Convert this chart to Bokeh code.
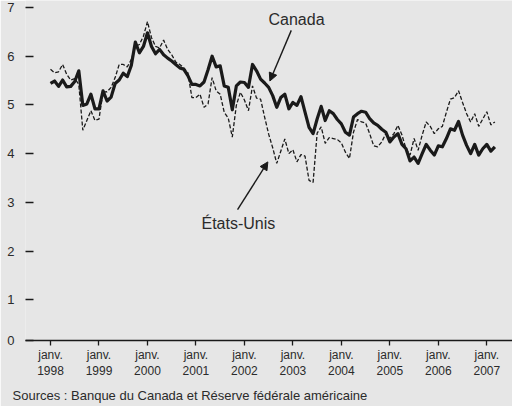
from bokeh.plotting import figure
from bokeh.models import Range1d, FixedTicker, Label, Arrow, NormalHead, Title
from bokeh.embed import file_html
from bokeh.resources import INLINE

# Monthly values, janv. 1998 -> mars 2007
canada = [5.44, 5.49, 5.38, 5.51, 5.37, 5.38, 5.48, 5.70, 4.99, 5.02, 5.22, 4.92,
          4.92, 5.29, 5.08, 5.16, 5.44, 5.51, 5.65, 5.58, 5.81, 6.29, 6.07, 6.20,
          6.48, 6.20, 6.05, 6.14, 6.03, 5.96, 5.90, 5.83, 5.76, 5.73, 5.60, 5.42,
          5.42, 5.39, 5.47, 5.72, 6.00, 5.78, 5.80, 5.39, 5.36, 4.90, 5.39, 5.47,
          5.46, 5.36, 5.83, 5.70, 5.53, 5.45, 5.36, 5.19, 4.95, 5.15, 5.22, 4.92,
          5.05, 4.99, 5.17, 4.85, 4.54, 4.41, 4.71, 4.97, 4.68, 4.88, 4.82, 4.70,
          4.61, 4.44, 4.38, 4.75, 4.82, 4.87, 4.85, 4.72, 4.63, 4.58, 4.50, 4.44,
          4.24, 4.34, 4.41, 4.19, 4.10, 3.85, 3.93, 3.80, 4.00, 4.19, 4.07, 3.97,
          4.16, 4.14, 4.31, 4.51, 4.48, 4.66, 4.38, 4.17, 4.00, 4.19, 3.97, 4.10,
          4.19, 4.05, 4.14]
etats_unis = [5.73, 5.66, 5.68, 5.83, 5.63, 5.51, 5.54, 5.42, 4.48, 4.68, 4.88, 4.68,
              4.71, 5.26, 5.27, 5.36, 5.56, 5.83, 5.83, 5.78, 5.93, 6.20, 6.24, 6.41,
              6.71, 6.38, 6.20, 6.17, 6.33, 6.14, 6.03, 5.88, 5.83, 5.76, 5.66, 5.15,
              5.15, 5.22, 4.95, 5.02, 5.56, 5.29, 5.22, 4.85, 4.73, 4.34, 4.99, 5.26,
              5.10, 4.88, 5.39, 5.14, 5.12, 4.75, 4.40, 4.12, 3.80, 4.05, 4.30, 4.00,
              4.08, 3.83, 3.98, 3.95, 3.45, 3.41, 4.42, 4.55, 4.21, 4.33, 4.31, 4.29,
              4.22, 4.03, 3.90, 4.44, 4.70, 4.65, 4.63, 4.41, 4.16, 4.14, 4.24, 4.41,
              4.31, 4.41, 4.58, 4.38, 4.10, 3.97, 4.31, 4.07, 4.38, 4.65, 4.56, 4.41,
              4.51, 4.56, 4.85, 5.12, 5.15, 5.29, 5.05, 4.82, 4.65, 4.82, 4.56, 4.71,
              4.86, 4.59, 4.65]
tick_years = ["1998", "1999", "2000", "2001", "2002", "2003", "2004", "2005", "2006", "2007"]
y_ticks = [1, 2, 3, 4, 5, 6, 7]

months = list(range(len(canada)))
x_ticks = [12 * i for i in range(len(tick_years))]
Y0 = 0.164  # bottom of the frame, labelled "0"

BG = "#e6e6e6"
INK = "#1a1a1a"
TXT = "#2b2b2b"

p = figure(width=512, height=406, output_backend="svg", toolbar_location=None,
           x_range=Range1d(-6.19, 114.36), y_range=Range1d(Y0, 7.143),
           min_border_left=25, min_border_right=0, min_border_top=0, min_border_bottom=65,
           background_fill_color=BG, border_fill_color=BG, outline_line_color=None)
p.grid.visible = False

p.line(months, etats_unis, line_color=INK, line_width=1.3, line_dash="4 2")
p.line(months, canada, line_color=INK, line_width=3.2, line_join="round")

xa = p.xaxis[0]
xa.ticker = FixedTicker(ticks=x_ticks)
xa.major_label_overrides = {t: "janv.\n" + y for t, y in zip(x_ticks, tick_years)}
xa.axis_line_color = INK
xa.axis_line_width = 1.3
xa.major_tick_line_color = INK
xa.major_tick_line_width = 1.3
xa.major_tick_out = 5
xa.major_tick_in = 0
xa.minor_tick_line_color = None
xa.major_label_standoff = 2
xa.major_label_text_font = "Liberation Sans"
xa.major_label_text_font_size = "12px"
xa.major_label_text_color = TXT

ya = p.yaxis[0]
ya.ticker = FixedTicker(ticks=[Y0] + y_ticks)
ya.major_label_overrides = {Y0: "0"}
ya.axis_line_color = None
ya.major_tick_line_color = INK
ya.major_tick_line_width = 1.3
ya.major_tick_in = 8
ya.major_tick_out = 0
ya.minor_tick_line_color = None
ya.major_label_standoff = 11
ya.major_label_text_font = "Liberation Sans"
ya.major_label_text_font_size = "13px"
ya.major_label_text_color = TXT

p.add_layout(Label(x=60.9, y=6.76, text="Canada", text_align="center", text_baseline="middle",
                   text_font="Liberation Sans", text_font_size="16px", text_color=TXT))
p.add_layout(Arrow(end=NormalHead(size=8, fill_color=INK, line_color=INK),
                   x_start=59.6, y_start=6.53, x_end=54.3, y_end=5.49,
                   line_color=INK, line_width=1.4))
p.add_layout(Label(x=46.5, y=2.57, text="États-Unis", text_align="center", text_baseline="middle",
                   text_font="Liberation Sans", text_font_size="16px", text_color=TXT))
p.add_layout(Arrow(end=NormalHead(size=8, fill_color=INK, line_color=INK),
                   x_start=46.3, y_start=2.85, x_end=53.8, y_end=3.83,
                   line_color=INK, line_width=1.4))

p.add_layout(Title(text="Sources : Banque du Canada et Réserve fédérale américaine", align="left",
                   text_font="Liberation Sans", text_font_size="13px", text_font_style="normal",
                   text_color=TXT, offset=-13, standoff=8), "below")

open("out.html", "w").write(file_html(p, INLINE))
